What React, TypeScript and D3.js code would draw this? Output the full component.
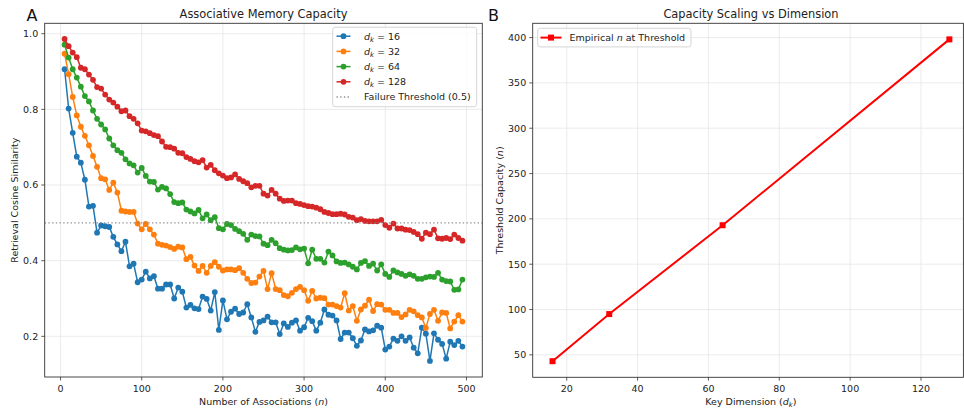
import React from 'react';
import * as d3 from 'd3';

// number of stored associations (x of panel A)
const N_ASSOC = d3.range(5, 500, 5);

// retrieval cosine similarity per key dimension
const SIM_D16 = [
  0.906, 0.802, 0.738, 0.675, 0.659, 0.614, 0.543, 0.545, 0.474, 0.493,
  0.491, 0.489, 0.463, 0.443, 0.425, 0.450, 0.385, 0.392, 0.343, 0.350,
  0.371, 0.353, 0.359, 0.326, 0.326, 0.337, 0.337, 0.300, 0.329, 0.318,
  0.276, 0.283, 0.274, 0.272, 0.305, 0.299, 0.268, 0.317, 0.217, 0.295,
  0.245, 0.265, 0.273, 0.259, 0.263, 0.285, 0.250, 0.212, 0.238, 0.242,
  0.252, 0.237, 0.237, 0.206, 0.234, 0.225, 0.236, 0.242, 0.215, 0.224,
  0.249, 0.240, 0.215, 0.236, 0.271, 0.257, 0.255, 0.242, 0.193, 0.210,
  0.210, 0.195, 0.175, 0.189, 0.218, 0.213, 0.216, 0.228, 0.223, 0.165,
  0.173, 0.194, 0.188, 0.200, 0.188, 0.197, 0.170, 0.155, 0.223, 0.207,
  0.135, 0.208, 0.191, 0.180, 0.141, 0.186, 0.177, 0.188, 0.173,
];
const SIM_D32 = [
  0.947, 0.893, 0.833, 0.784, 0.754, 0.730, 0.705, 0.677, 0.648, 0.618,
  0.615, 0.587, 0.606, 0.580, 0.532, 0.530, 0.529, 0.529, 0.498, 0.483,
  0.497, 0.483, 0.469, 0.445, 0.442, 0.440, 0.436, 0.431, 0.437, 0.435,
  0.404, 0.410, 0.387, 0.373, 0.386, 0.368, 0.386, 0.396, 0.384, 0.374,
  0.377, 0.377, 0.375, 0.380, 0.368, 0.352, 0.341, 0.342, 0.358, 0.373,
  0.325, 0.367, 0.325, 0.322, 0.309, 0.306, 0.315, 0.325, 0.331, 0.322,
  0.294, 0.320, 0.300, 0.302, 0.301, 0.284, 0.284, 0.280, 0.276, 0.314,
  0.268, 0.280, 0.241, 0.271, 0.281, 0.297, 0.267, 0.285, 0.284, 0.270,
  0.270, 0.262, 0.262, 0.251, 0.258, 0.270, 0.266, 0.256, 0.250, 0.222,
  0.259, 0.270, 0.241, 0.263, 0.262, 0.221, 0.239, 0.256, 0.239,
];
const SIM_D64 = [
  0.971, 0.937, 0.906, 0.884, 0.860, 0.835, 0.821, 0.797, 0.775, 0.760,
  0.747, 0.723, 0.705, 0.692, 0.685, 0.668, 0.657, 0.652, 0.633, 0.645,
  0.624, 0.609, 0.608, 0.588, 0.595, 0.591, 0.576, 0.555, 0.552, 0.554,
  0.535, 0.530, 0.525, 0.534, 0.512, 0.522, 0.507, 0.515, 0.486, 0.483,
  0.497, 0.494, 0.484, 0.478, 0.471, 0.455, 0.469, 0.465, 0.464, 0.445,
  0.441, 0.455, 0.446, 0.433, 0.429, 0.427, 0.428, 0.435, 0.430, 0.432,
  0.393, 0.429, 0.405, 0.405, 0.395, 0.424, 0.414, 0.398, 0.394, 0.395,
  0.390, 0.384, 0.377, 0.394, 0.399, 0.386, 0.392, 0.374, 0.390, 0.365,
  0.357, 0.374, 0.369, 0.365, 0.360, 0.364, 0.360, 0.352, 0.352, 0.356,
  0.358, 0.357, 0.368, 0.350, 0.346, 0.345, 0.323, 0.324, 0.350,
];
const SIM_D128 = [
  0.986, 0.967, 0.950, 0.938, 0.910, 0.906, 0.892, 0.878, 0.859, 0.855,
  0.839, 0.826, 0.818, 0.807, 0.795, 0.797, 0.782, 0.775, 0.763, 0.744,
  0.742, 0.737, 0.732, 0.729, 0.715, 0.701, 0.700, 0.696, 0.685, 0.684,
  0.674, 0.669, 0.663, 0.660, 0.666, 0.646, 0.653, 0.639, 0.631, 0.625,
  0.618, 0.620, 0.628, 0.616, 0.610, 0.605, 0.594, 0.598, 0.598, 0.577,
  0.572, 0.587, 0.577, 0.564, 0.558, 0.559, 0.559, 0.552, 0.550, 0.547,
  0.544, 0.543, 0.540, 0.536, 0.529, 0.526, 0.523, 0.523, 0.524, 0.522,
  0.516, 0.514, 0.507, 0.510, 0.505, 0.504, 0.504, 0.504, 0.508, 0.494,
  0.487, 0.498, 0.485, 0.485, 0.482, 0.481, 0.476, 0.470, 0.458, 0.474,
  0.470, 0.482, 0.459, 0.458, 0.460, 0.457, 0.469, 0.460, 0.453,
];
const THRESHOLD = 0.5;

// panel B
const KEY_DIMS = [16, 32, 64, 128];
const CAPACITY_N = [43, 95, 193, 398];

const TICKS_A_X = [0, 100, 200, 300, 400, 500];
const TICKS_A_Y = [0.2, 0.4, 0.6, 0.8, 1.0];
const TICKS_B_X = [20, 40, 60, 80, 100, 120];
const TICKS_B_Y = [50, 100, 150, 200, 250, 300, 350, 400];

const SERIES = [
  { dk: '16', values: SIM_D16, color: '#1f77b4' },
  { dk: '32', values: SIM_D32, color: '#ff7f0e' },
  { dk: '64', values: SIM_D64, color: '#2ca02c' },
  { dk: '128', values: SIM_D128, color: '#d62728' },
];

const FONT = 'DejaVu Sans, Verdana, sans-serif';
const AX = '#333333';
const GRID = '#e6e6e6';
const FS = 9.5;

// axes boxes (px)
const A = { l: 44.7, r: 482.3, t: 23.3, b: 377 };
const B = { l: 532.7, r: 969.2, t: 23.3, b: 377.3 };
const B_FRAME_R = 963.4; // the picture is cut just past this edge

export default function App() {
  const xA = d3.scaleLinear().domain([-19.5, 519.5]).range([A.l, A.r]);
  const yA = d3.scaleLinear().domain([0.0925, 1.0275]).range([A.b, A.t]);
  const xB = d3.scaleLinear().domain([10.4, 133.6]).range([B.l, B.r]);
  const yB = d3.scaleLinear().domain([25.25, 415.75]).range([B.b, B.t]);

  const lineA = d3.line<number>().x((_, i) => xA(N_ASSOC[i])).y(d => yA(d));
  const lineB = d3.line<number>().x((_, i) => xB(KEY_DIMS[i])).y(d => yB(d));

  const legendRows = [36.2, 51.4, 66.6, 81.8, 97];

  return (
    <div style={{ position: 'absolute', left: 0, top: 0 }}>
      <svg width={964} height={410} style={{ display: 'block', fontFamily: FONT }}>
        <rect width={964} height={410} fill="#fff" />
        <defs>
          <clipPath id="clipA"><rect x={A.l} y={A.t} width={A.r - A.l} height={A.b - A.t} /></clipPath>
        </defs>

        {/* ---------- Panel A ---------- */}
        {TICKS_A_X.map(t => (
          <line key={'gax' + t} x1={xA(t)} x2={xA(t)} y1={A.t} y2={A.b} stroke={GRID} strokeWidth={0.8} />
        ))}
        {TICKS_A_Y.map(t => (
          <line key={'gay' + t} x1={A.l} x2={A.r} y1={yA(t)} y2={yA(t)} stroke={GRID} strokeWidth={0.8} />
        ))}
        <g clipPath="url(#clipA)">
          {SERIES.map(s => (
            <g key={s.dk}>
              <path d={lineA(s.values) || ''} fill="none" stroke={s.color} strokeWidth={1.5} />
              {s.values.map((v, i) => (
                <circle key={i} cx={xA(N_ASSOC[i])} cy={yA(v)} r={2.9} fill={s.color} />
              ))}
            </g>
          ))}
          <line x1={A.l} x2={A.r} y1={yA(THRESHOLD)} y2={yA(THRESHOLD)} stroke="#808080"
            strokeWidth={1.4} strokeDasharray="1.4,2.3" opacity={0.85} />
        </g>
        <rect x={A.l} y={A.t} width={A.r - A.l} height={A.b - A.t} fill="none" stroke={AX} strokeWidth={0.9} />
        {TICKS_A_X.map(t => (
          <g key={'tax' + t}>
            <line x1={xA(t)} x2={xA(t)} y1={A.b} y2={A.b + 3.4} stroke={AX} strokeWidth={0.8} />
            <text x={xA(t)} y={392} fontSize={FS} textAnchor="middle" fill="#222">{t}</text>
          </g>
        ))}
        {TICKS_A_Y.map(t => (
          <g key={'tay' + t}>
            <line x1={A.l - 3.4} x2={A.l} y1={yA(t)} y2={yA(t)} stroke={AX} strokeWidth={0.8} />
            <text x={A.l - 6.5} y={yA(t)} dy="0.35em" fontSize={FS} textAnchor="end" fill="#222">{t.toFixed(1)}</text>
          </g>
        ))}
        <text x={(A.l + A.r) / 2} y={18} fontSize={11.4} textAnchor="middle" fill="#222">Associative Memory Capacity</text>
        <text x={(A.l + A.r) / 2} y={405} fontSize={FS} textAnchor="middle" fill="#222">
          Number of Associations (<tspan fontStyle="italic">n</tspan>)
        </text>
        <text transform={`translate(15,${(A.t + A.b) / 2}) rotate(-90)`} fontSize={FS} textAnchor="middle" dy="0.35em" fill="#222">
          Retrieval Cosine Similarity
        </text>
        <text x={26.5} y={20.8} fontSize={16} fill="#111">A</text>

        {/* legend A */}
        <rect x={332.7} y={27.3} width={144} height={79.4} rx={2.5} fill="#fff" fillOpacity={0.8} stroke="#cccccc" strokeWidth={0.8} />
        {SERIES.map((s, i) => (
          <g key={'lg' + s.dk}>
            <line x1={336.5} x2={350.5} y1={legendRows[i]} y2={legendRows[i]} stroke={s.color} strokeWidth={1.5} />
            <circle cx={343.5} cy={legendRows[i]} r={2.9} fill={s.color} />
            <text x={364} y={legendRows[i]} dy="0.35em" fontSize={FS} fill="#222">
              <tspan fontStyle="italic">d</tspan>
              <tspan fontStyle="italic" fontSize={6.8} dy="2.2">k</tspan>
              <tspan dy="-2.2"> = {s.dk}</tspan>
            </text>
          </g>
        ))}
        <line x1={336.5} x2={350.5} y1={legendRows[4]} y2={legendRows[4]} stroke="#808080" strokeWidth={1.4}
          strokeDasharray="1.4,2.3" opacity={0.85} />
        <text x={364} y={legendRows[4]} dy="0.35em" fontSize={FS} fill="#222">Failure Threshold (0.5)</text>

        {/* ---------- Panel B ---------- */}
        {TICKS_B_X.map(t => (
          <line key={'gbx' + t} x1={xB(t)} x2={xB(t)} y1={B.t} y2={B.b} stroke={GRID} strokeWidth={0.8} />
        ))}
        {TICKS_B_Y.map(t => (
          <line key={'gby' + t} x1={B.l} x2={B_FRAME_R} y1={yB(t)} y2={yB(t)} stroke={GRID} strokeWidth={0.8} />
        ))}
        <path d={lineB(CAPACITY_N) || ''} fill="none" stroke="#ff0000" strokeWidth={2} />
        {CAPACITY_N.map((v, i) => (
          <rect key={'sq' + i} x={xB(KEY_DIMS[i]) - 3} y={yB(v) - 3} width={6} height={6} fill="#ff0000" />
        ))}
        <rect x={B.l} y={B.t} width={B_FRAME_R - B.l} height={B.b - B.t} fill="none" stroke={AX} strokeWidth={0.9} />
        {TICKS_B_X.map(t => (
          <g key={'tbx' + t}>
            <line x1={xB(t)} x2={xB(t)} y1={B.b} y2={B.b + 3.4} stroke={AX} strokeWidth={0.8} />
            <text x={xB(t)} y={392} fontSize={FS} textAnchor="middle" fill="#222">{t}</text>
          </g>
        ))}
        {TICKS_B_Y.map(t => (
          <g key={'tby' + t}>
            <line x1={B.l - 3.4} x2={B.l} y1={yB(t)} y2={yB(t)} stroke={AX} strokeWidth={0.8} />
            <text x={B.l - 6.5} y={yB(t)} dy="0.35em" fontSize={FS} textAnchor="end" fill="#222">{t}</text>
          </g>
        ))}
        <text x={(B.l + B.r) / 2} y={18} fontSize={11.4} textAnchor="middle" fill="#222">Capacity Scaling vs Dimension</text>
        <text x={(B.l + B.r) / 2} y={405} fontSize={FS} textAnchor="middle" fill="#222">
          Key Dimension (<tspan fontStyle="italic">d</tspan><tspan fontStyle="italic" fontSize={6.8} dy="2.2">k</tspan><tspan dy="-2.2">)</tspan>
        </text>
        <text transform={`translate(500,${(B.t + B.b) / 2}) rotate(-90)`} fontSize={FS} textAnchor="middle" dy="0.35em" fill="#222">
          Threshold Capacity (<tspan fontStyle="italic">n</tspan>)
        </text>
        <text x={488} y={20.8} fontSize={16} fill="#111">B</text>

        {/* legend B */}
        <rect x={537.7} y={28.3} width={153.3} height={18.6} rx={2.5} fill="#fff" fillOpacity={0.8} stroke="#cccccc" strokeWidth={0.8} />
        <line x1={540.5} x2={561.5} y1={37.6} y2={37.6} stroke="#ff0000" strokeWidth={2} />
        <rect x={548} y={34.6} width={6} height={6} fill="#ff0000" />
        <text x={569.5} y={37.6} dy="0.35em" fontSize={FS} fill="#222">
          Empirical <tspan fontStyle="italic">n</tspan> at Threshold
        </text>
      </svg>
    </div>
  );
}
